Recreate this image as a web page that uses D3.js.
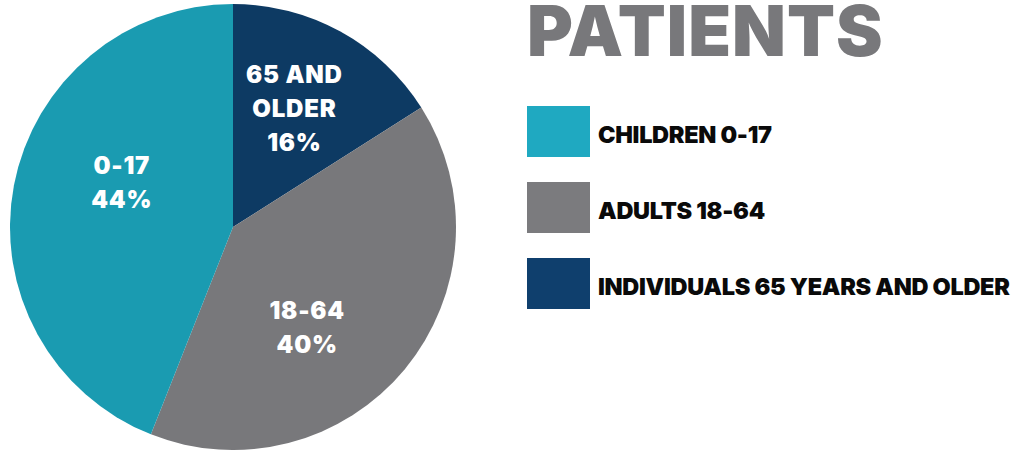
<!DOCTYPE html>
<html>
<head>
<meta charset="utf-8">
<script src="https://cdn.jsdelivr.net/npm/d3@7"></script>
<style>
  body { margin: 0; background: #fff; }
  svg text { font-family: Inter, "Open Sans", sans-serif; }
</style>
</head>
<body>
<svg width="1030" height="450"></svg>
<script>
const groups = ["65 AND OLDER", "18-64", "0-17"];
const shares = [16, 40, 44];
const sliceLines = [["65 AND", "OLDER", "16%"], ["18-64", "40%"], ["0-17", "44%"]];
const sliceColors = ["#0d3a63", "#78787b", "#1a9bb1"];

const legendLabels = ["CHILDREN 0-17", "ADULTS 18-64", "INDIVIDUALS 65 YEARS AND OLDER"];
const legendColors = ["#1fa9c1", "#7b7b7e", "#0f3f6d"];

const svg = d3.select("svg");

const cx = 233, cy = 227, radius = 223;

const pie = d3.pie().sort(null).value(d => d)(shares);
const arc = d3.arc().innerRadius(0).outerRadius(radius);
const labelArc = d3.arc().innerRadius(0).outerRadius(255);

const g = svg.append("g").attr("transform", `translate(${cx},${cy})`);

g.selectAll("path")
  .data(pie)
  .enter()
  .append("path")
  .attr("d", arc)
  .attr("fill", (d, i) => sliceColors[i]);

// small nudges so labels sit where the original puts them
const nudge = [[0, -6], [-24, 20], [14, -20]];

g.selectAll("text.slice")
  .data(pie)
  .enter()
  .append("text")
  .attr("class", "slice")
  .attr("text-anchor", "middle")
  .attr("fill", "#fff")
  .attr("font-size", 24)
  .attr("font-weight", 900)
  .attr("letter-spacing", 0.8)
  .each(function(d, i) {
    const [x, y] = labelArc.centroid(d);
    const lines = sliceLines[i];
    const lh = 34;
    const top = y + nudge[i][1] - (lines.length - 1) * lh / 2 + 8;
    lines.forEach((t, j) => {
      d3.select(this).append("tspan")
        .attr("x", x + nudge[i][0])
        .attr("y", top + j * lh)
        .text(t);
    });
  });

svg.append("text")
  .attr("x", 527)
  .attr("y", 56)
  .attr("font-size", 70)
  .attr("font-weight", 900)
  .attr("fill", "#78787b")
  .attr("letter-spacing", 1)
  .text("PATIENTS");

const legendY = d3.scalePoint().domain(legendLabels).range([106, 258]);

const legend = svg.append("g");

legend.selectAll("rect")
  .data(legendLabels)
  .enter()
  .append("rect")
  .attr("x", 527)
  .attr("y", d => legendY(d))
  .attr("width", 63)
  .attr("height", 51)
  .attr("fill", (d, i) => legendColors[i]);

legend.selectAll("text")
  .data(legendLabels)
  .enter()
  .append("text")
  .attr("x", 598)
  .attr("y", d => legendY(d) + 37)
  .attr("font-size", 23.5)
  .attr("font-weight", 900)
  .attr("letter-spacing", -0.3)
  .attr("fill", "#0a0a0a")
  .text(d => d);
</script>
</body>
</html>
